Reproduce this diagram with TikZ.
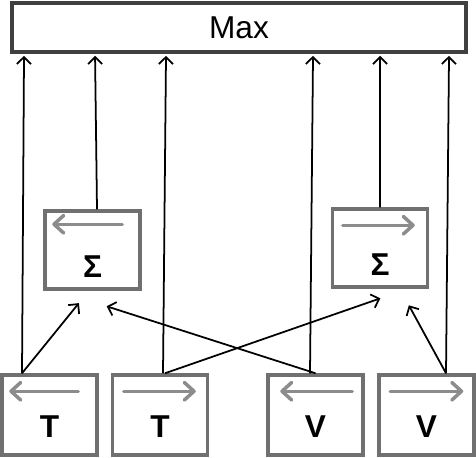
\documentclass[tikz,border=0pt]{standalone}
\usepackage{fontspec}
\setmainfont{Liberation Sans}
\usepackage{xcolor}
\usetikzlibrary{arrows.meta, positioning, calc}

\definecolor{maxgray}{HTML}{404040}
\definecolor{boxgray}{HTML}{707070}
\definecolor{dirgray}{HTML}{8C8C8C}

\tikzset{
  maxbox/.style={draw=maxgray, line width=2.3pt, rectangle, inner sep=0pt,
    minimum width=9.08cm, minimum height=0.98cm, font=\fontsize{18}{20}\selectfont},
  inbox/.style={draw=boxgray, line width=2pt, rectangle, inner sep=0pt,
    minimum width=1.9cm, text height=1.24cm, text depth=0.36cm,
    font=\bfseries\fontsize{18}{18}\selectfont},
  sumbox/.style={inbox, text height=1.32cm, text depth=0.24cm},
  dir/.style={draw=dirgray, line width=2pt, line cap=round,
    -{Straight Barb[length=5.5pt, width=10pt, round]}},
  feed/.style={black, line width=1pt, -{Straight Barb[length=4pt, width=8pt]}, shorten >=1pt}
}

\begin{document}
\begin{tikzpicture}[x=0.02cm, y=-0.02cm]
    \useasboundingbox (0,0) rectangle (476,457);

    % 顶部
    \node[maxbox] (max) at (239,27.5) {Max};

    % 输入
    \node[inbox] (t1) at (49.5,415) {T};
    \node[inbox] (t2) at (160,415) {T};
    \node[inbox] (v1) at (315.5,415) {V};
    \node[inbox] (v2) at (426.5,415) {V};

    % 求和
    \node[sumbox] (s1) at (92.5,250) {Σ};
    \node[sumbox] (s2) at (380,248) {Σ};

    % 方向箭头
    \draw[dir] ($(t1.north west)+(78,18)$) -- ($(t1.north west)+(9,18)$);
    \draw[dir] ($(t2.north west)+(13,18)$) -- ($(t2.north west)+(85,18)$);
    \draw[dir] ($(v1.north west)+(86,18)$) -- ($(v1.north west)+(14,18)$);
    \draw[dir] ($(v2.north west)+(13,18)$) -- ($(v2.north west)+(86,18)$);
    \draw[dir] ($(s1.north west)+(79,15)$) -- ($(s1.north west)+(9,15)$);
    \draw[dir] ($(s2.north west)+(12,18)$) -- ($(s2.north west)+(84,18)$);

    % 送入 Max
    \draw[feed] ($(t1.north)+(-27.5,0)$) -- ($(max.south west)+(14,0)$);
    \draw[feed] ($(s1.north)+(4.5,0)$) -- ($(max.south west)+(85,0)$);
    \draw[feed] ($(t2.north)+(3,0)$) -- ($(max.south west)+(156,0)$);
    \draw[feed] ($(v1.north)+(-5.5,0)$) -- ($(max.south west)+(303,0)$);
    \draw[feed] (s2.north) -- ($(max.south west)+(370,0)$);
    \draw[feed] ($(v2.north)+(19.5,0)$) -- ($(max.south west)+(439,0)$);

    % 交叉连接
    \draw[feed] ($(t1.north)+(-27.5,0)$) -- ($(s1.south)+(-12.5,11)$);
    \draw[feed] ($(t2.north)+(5,0)$) -- ($(s2.south)+(2,9)$);
    \draw[feed] (v1.north) -- ($(s1.south)+(12.5,15)$);
    \draw[feed] ($(v2.north)+(19.5,0)$) -- ($(s2.south)+(28,15)$);
\end{tikzpicture}
\end{document}
